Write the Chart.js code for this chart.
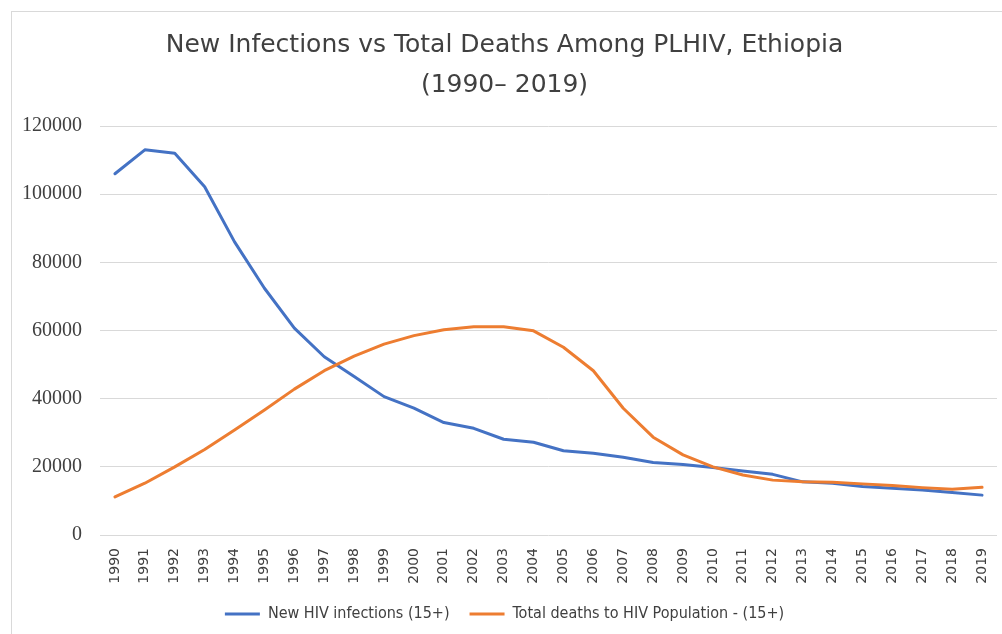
<!DOCTYPE html>
<html>
<head>
<meta charset="utf-8">
<script src="https://cdn.jsdelivr.net/npm/chart.js@4.4.1/dist/chart.umd.min.js"></script>
<style>
  html, body { margin: 0; padding: 0; background: #ffffff; }
  #wrap { width: 1002px; height: 634px; position: relative; }
</style>
</head>
<body>
<div id="wrap"><canvas id="c" width="1002" height="634"></canvas></div>
<script>
const chartTitle = ['New Infections vs Total Deaths Among PLHIV, Ethiopia', '(1990\u2013 2019)'];
const years = ['1990','1991','1992','1993','1994','1995','1996','1997','1998','1999',
               '2000','2001','2002','2003','2004','2005','2006','2007','2008','2009',
               '2010','2011','2012','2013','2014','2015','2016','2017','2018','2019'];
const seriesNames = ['New HIV infections (15+)', 'Total deaths to HIV Population - (15+)'];
const newInfections = [106000, 113000, 112000, 102200, 86000, 72400, 60700, 52300, 46500, 40600,
                       37200, 33000, 31300, 28100, 27200, 24700, 24000, 22800, 21300, 20700,
                       19800, 18800, 17800, 15600, 15200, 14200, 13700, 13200, 12500, 11700];
const totalDeaths = [11200, 15200, 20000, 25100, 30800, 36700, 42800, 48200, 52500, 56000,
                     58500, 60200, 61100, 61100, 59900, 55100, 48200, 37200, 28700, 23500,
                     20000, 17600, 16100, 15600, 15500, 15000, 14500, 13900, 13400, 14000];
const yTicks = [0, 20000, 40000, 60000, 80000, 100000, 120000];

const frame = {
  id: 'frame',
  beforeDraw(chart) {
    const ctx = chart.ctx;
    ctx.save();
    ctx.fillStyle = '#ffffff';
    ctx.fillRect(0, 0, chart.width, chart.height);
    ctx.strokeStyle = '#d9d9d9';
    ctx.lineWidth = 1;
    ctx.strokeRect(11.5, 11.5, 1100, 800);
    ctx.restore();
  }
};

new Chart(document.getElementById('c'), {
  type: 'line',
  data: {
    labels: years,
    datasets: [
      { label: seriesNames[0], data: newInfections, borderColor: '#4472C4', backgroundColor: '#4472C4',
        borderWidth: 3, pointRadius: 0, tension: 0, order: 1, borderJoinStyle: 'round', borderCapStyle: 'round' },
      { label: seriesNames[1], data: totalDeaths, borderColor: '#ED7D31', backgroundColor: '#ED7D31',
        borderWidth: 3, pointRadius: 0, tension: 0, order: 0, borderJoinStyle: 'round', borderCapStyle: 'round' }
    ]
  },
  options: {
    responsive: false,
    animation: false,
    layout: { padding: { left: 12, right: 5, top: 0, bottom: 2 } },
    plugins: {
      title: {
        display: true,
        text: chartTitle,
        color: '#404040',
        font: { family: "'DejaVu Sans', sans-serif", size: 25, weight: 'normal', lineHeight: 40 / 25 },
        padding: { top: 25, bottom: 21 }
      },
      legend: {
        position: 'bottom',
        labels: {
          boxWidth: 35,
          boxHeight: 3,
          padding: 20,
          color: '#404040',
          font: { family: "'Liberation Sans Narrow', 'DejaVu Sans Condensed', 'Arial Narrow', sans-serif", size: 16 },
          sort: (a, b) => a.datasetIndex - b.datasetIndex,
          generateLabels(chart) {
            const items = Chart.defaults.plugins.legend.labels.generateLabels(chart);
            items.forEach(i => { i.lineWidth = 0; });
            return items;
          }
        }
      },
      tooltip: { enabled: false }
    },
    scales: {
      x: {
        offset: true,
        grid: { display: false, drawTicks: false },
        border: { display: false },
        afterFit(scale) { scale.height = 51; scale.paddingRight = 0; scale.paddingLeft = 0; },
        ticks: {
          autoSkip: false,
          minRotation: 90,
          maxRotation: 90,
          padding: 13,
          color: '#404040',
          font: { family: "'DejaVu Sans', sans-serif", size: 14 }
        }
      },
      y: {
        min: 0,
        max: 120000,
        afterFit(scale) { scale.width = 88; },
        afterBuildTicks(scale) { scale.ticks = yTicks.map(v => ({ value: v })); },
        grid: { color: '#d9d9d9', lineWidth: 1, drawTicks: false },
        border: { display: false },
        ticks: {
          padding: 18,
          color: '#404040',
          font: { family: "'Liberation Serif', 'DejaVu Serif', serif", size: 20 },
          callback: (v) => String(v)
        }
      }
    }
  },
  plugins: [frame]
});
</script>
</body>
</html>
